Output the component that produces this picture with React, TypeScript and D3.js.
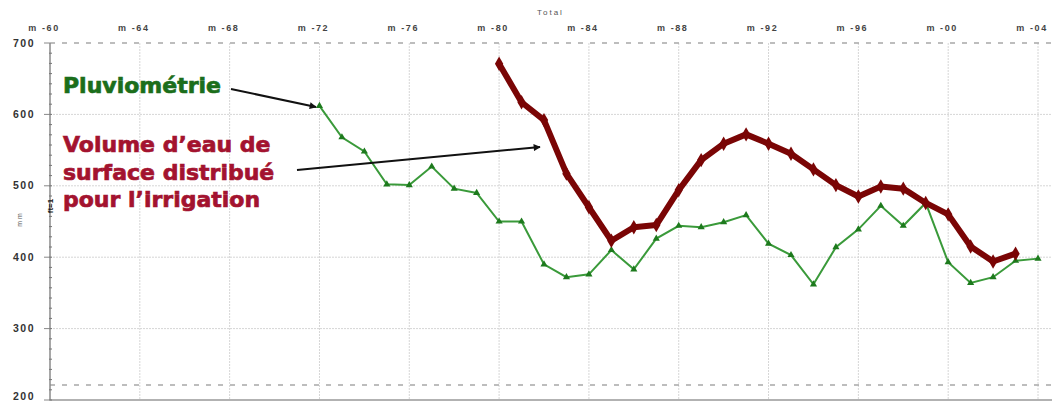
import * as d3 from 'd3';

// Rainfall (green) and distributed surface-water volume (dark red), mm
const RAIN_YEARS = d3.range(1972, 2005);
const RAIN = [
  612, 568, 548, 502, 501, 527, 496, 490, 450, 450, 390, 372, 376, 410, 383, 426, 444,
  442, 449, 459, 419, 403, 362, 414, 439, 472, 444, 476, 393, 364, 372, 395, 398,
];
const VOL_YEARS = d3.range(1980, 2004);
const VOLUME = [
  671, 617, 592, 517, 470, 423, 442, 445, 494, 536, 559, 572, 559, 545, 523, 501, 485,
  499, 496, 476, 460, 415, 394, 405,
];
const X_TICKS = [1960, 1964, 1968, 1972, 1976, 1980, 1984, 1988, 1992, 1996, 2000, 2004];
const X_TICK_LABELS = ['m -60', 'm -64', 'm -68', 'm -72', 'm -76', 'm -80', 'm -84', 'm -88', 'm -92', 'm -96', 'm -00', 'm -04'];
const Y_TICKS = [200, 300, 400, 500, 600, 700];
const REF_LEVEL = 221;

const W = 1052;
const H = 402;
const PLOT = { left: 50, right: 1052, top: 43, bottom: 400 };

const GREEN = '#3a9a3a';
const GREEN_DARK = '#1d7a1d';
const RED = '#7a0505';

export default function App() {
  const x = d3.scaleLinear().domain([1960, 2004]).range([PLOT.left, 1038]);
  const y = d3.scaleLinear().domain([200, 700]).range([PLOT.bottom, PLOT.top]);

  const rainPts = RAIN_YEARS.map((yr, i) => [yr, RAIN[i]] as [number, number]);
  const volPts = VOL_YEARS.map((yr, i) => [yr, VOLUME[i]] as [number, number]);
  const line = d3
    .line<[number, number]>()
    .x((d) => x(d[0]))
    .y((d) => y(d[1]));

  const tri = d3.symbol(d3.symbolTriangle, 22)() ?? '';
  const diamond = d3.symbol(d3.symbolDiamond, 60)() ?? '';

  const minorTicks = d3.range(200, 700, 100 / 7);

  return (
    <svg
      width={W}
      height={H}
      style={{ position: 'absolute', left: 0, top: 0, background: '#fff' }}
      fontFamily="'Liberation Sans', Arial, sans-serif"
    >
      <defs>
        <marker id="arr" viewBox="0 0 10 10" refX={9} refY={5} markerWidth={9} markerHeight={7} markerUnits="userSpaceOnUse" orient="auto">
          <path d="M0,0 L10,5 L0,10 z" fill="#111" />
        </marker>
      </defs>

      {/* "Total" caption */}
      <text x={537} y={15} fontSize={8} letterSpacing={2} fill="#555">
        Total
      </text>

      {/* Horizontal grid */}
      {Y_TICKS.filter((t) => t > 200 && t < 700).map((t) => (
        <line key={t} x1={PLOT.left} x2={PLOT.right} y1={y(t)} y2={y(t)} stroke="#d6d6d6" strokeDasharray="2 1" />
      ))}

      {/* Vertical grid */}
      {X_TICKS.slice(1).map((t) => (
        <line key={t} x1={x(t)} x2={x(t)} y1={PLOT.top} y2={PLOT.bottom} stroke="#d6d6d6" strokeDasharray="2 1" />
      ))}

      {/* Top dashed border and reference level */}
      <line x1={PLOT.left} x2={PLOT.right} y1={PLOT.top} y2={PLOT.top} stroke="#a8a8a8" strokeWidth={1.5} strokeDasharray="5 7" />
      <line x1={PLOT.left} x2={PLOT.right} y1={y(REF_LEVEL)} y2={y(REF_LEVEL)} stroke="#a8a8a8" strokeWidth={1.5} strokeDasharray="5 7" />

      {/* Axes */}
      <line x1={PLOT.left} x2={PLOT.right} y1={PLOT.bottom} y2={PLOT.bottom} stroke="#999" strokeWidth={1.5} />
      <line x1={PLOT.left} x2={PLOT.left} y1={PLOT.top} y2={PLOT.bottom} stroke="#8a8a8a" strokeWidth={1.5} />
      {minorTicks.map((t) => (
        <line key={t} x1={PLOT.left - 1} x2={PLOT.left + 2} y1={y(t)} y2={y(t)} stroke="#777" strokeWidth={1} />
      ))}
      {Y_TICKS.map((t) => (
        <g key={t}>
          <line x1={PLOT.left - 6} x2={PLOT.left} y1={y(t)} y2={y(t)} stroke="#888" strokeWidth={1} />
          <text
            x={35}
            y={Math.min(y(t), 396)}
            dy="0.35em"
            textAnchor="end"
            fontSize={10.5}
            fontWeight={700}
            letterSpacing={1.5}
            fill="#333"
          >
            {t}
          </text>
        </g>
      ))}
      {X_TICK_LABELS.map((label, i) => (
        <text key={label} x={x(X_TICKS[i]) - 6} y={31} textAnchor="middle" fontSize={9} fontWeight={700} letterSpacing={1.6} fill="#444">
          {label}
        </text>
      ))}

      {/* Y axis unit */}
      <text transform="translate(22,219) rotate(-90)" textAnchor="middle" fontSize={7} fill="#555" letterSpacing={2}>
        mm
      </text>
      <text transform="translate(53,206) rotate(-90)" textAnchor="middle" fontSize={8} fontWeight={700} fill="#111">
        ft=1
      </text>

      {/* Rainfall series */}
      <path d={line(rainPts) ?? ''} fill="none" stroke={GREEN} strokeWidth={2} />
      {rainPts.map((p) => (
        <path key={p[0]} d={tri} transform={`translate(${x(p[0])},${y(p[1])})`} fill={GREEN_DARK} />
      ))}

      {/* Surface water volume series */}
      <path d={line(volPts) ?? ''} fill="none" stroke={RED} strokeWidth={6} strokeLinejoin="round" />
      {volPts.map((p) => (
        <path key={p[0]} d={diamond} transform={`translate(${x(p[0])},${y(p[1])})`} fill={RED} />
      ))}

      {/* Annotations */}
      <g fontFamily="'DejaVu Sans', Verdana, sans-serif" fontWeight={700} fontSize={22} strokeWidth={0.7}>
        <text x={63} y={93} fill="#1b6e1b" stroke="#1b6e1b">
          Pluviométrie
        </text>
        <text fill="#a3132f" stroke="#a3132f">
          <tspan x={63} y={152}>Volume d’eau de</tspan>
          <tspan x={63} y={180}>surface distribué</tspan>
          <tspan x={63} y={207}>pour l’irrigation</tspan>
        </text>
      </g>
      <line x1={231} y1={89} x2={316} y2={107} stroke="#111" strokeWidth={2} markerEnd="url(#arr)" />
      <line x1={297} y1={170} x2={540} y2={147} stroke="#111" strokeWidth={2} markerEnd="url(#arr)" />
    </svg>
  );
}
